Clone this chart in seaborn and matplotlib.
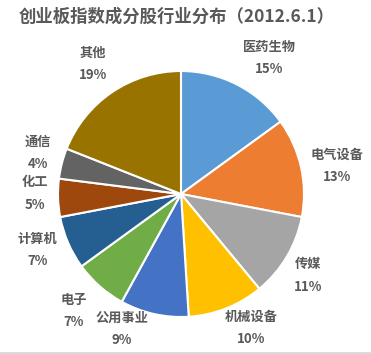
import matplotlib
matplotlib.use("Agg")
import matplotlib.pyplot as plt
import numpy as np
import seaborn as sns
from matplotlib.lines import Line2D

# industry breakdown of the ChiNext index constituents (2012.6.1)
industries = ["医药生物", "电气设备", "传媒", "机械设备", "公用事业",
              "电子", "计算机", "化工", "通信", "其他"]
shares = [15, 13, 11, 10, 9, 7, 7, 5, 4, 19]
colors = ["#5B9BD5", "#ED7D31", "#A5A5A5", "#FFC000", "#4472C4",
          "#70AD47", "#255E91", "#9E480E", "#636363", "#997300"]
title = "创业板指数成分股行业分布（2012.6.1）"

# label layout: angle nudge (deg) and distance (in radii) like Excel's best fit
label_nudge = [-6, -2.5, -2, 6, -11, -1, -2, -2, -1.5, 0]
label_dist = [1.32, 1.29, 1.23, 1.23, 1.20, 1.29, 1.25, 1.19, 1.21, 1.28]

sns.set_theme(style="white")
plt.rcParams["font.family"] = ["Noto Sans CJK SC", "DejaVu Sans"]
text_color = "#595959"

W, H = 371, 354
fig = plt.figure(figsize=(W / 100, H / 100), dpi=100)
fig.patch.set_facecolor("white")

# pie centre and radius in pixels
cx, cy, r = 181, 194, 123
ax = fig.add_axes([(cx - r) / W, (H - cy - r) / H, 2 * r / W, 2 * r / H])

palette = sns.color_palette(colors)
wedges, _ = ax.pie(shares, colors=palette, startangle=90, counterclock=False,
                   radius=1, wedgeprops={"edgecolor": "white", "linewidth": 1.5})
ax.set_xlim(-1, 1)
ax.set_ylim(-1, 1)
ax.set_axis_off()

# labels: name above, percentage below, centred outside each wedge
total = sum(shares)
for w, name, val, nd, d in zip(wedges, industries, shares, label_nudge, label_dist):
    ang = np.deg2rad((w.theta1 + w.theta2) / 2 + nd)
    ax.text(d * np.cos(ang), d * np.sin(ang), f"{name}\n{val / total:.0%}",
            ha="center", va="center", fontsize=9.5, fontweight="bold",
            color=text_color, linespacing=1.75)

fig.text(177 / W, 1 - 17 / H, title, ha="center", va="center",
         fontsize=12.5, fontweight="bold", color=text_color)

fig.add_artist(Line2D([0, 1], [1 / H, 1 / H], transform=fig.transFigure,
                      color="#D9D9D9", linewidth=2))

fig.savefig("out.png", dpi=100)
